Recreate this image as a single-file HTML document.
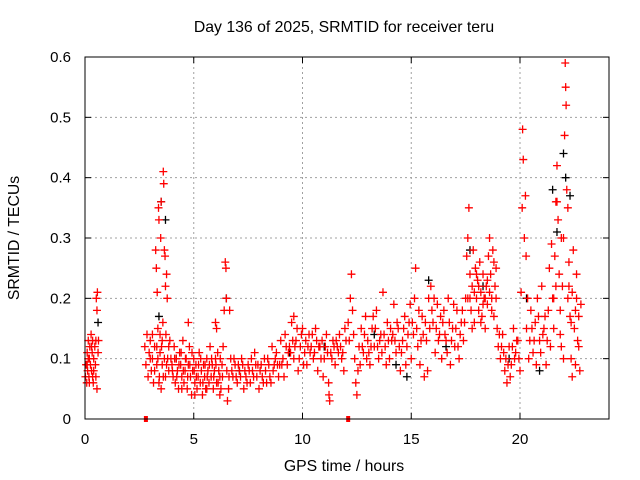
<!DOCTYPE html>
<html><head><meta charset="utf-8"><style>
html,body{margin:0;padding:0;background:#fff;}
svg{display:block;font-family:"Liberation Sans",sans-serif;}
</style></head><body>
<svg id="chart" width="640" height="480">
<text x="344" y="32" font-size="15.8" text-anchor="middle">Day 136 of 2025, SRMTID for receiver teru</text>
<text x="344" y="471" font-size="15.8" text-anchor="middle">GPS time / hours</text>
<text transform="translate(19,238) rotate(-90)" font-size="15.8" text-anchor="middle">SRMTID / TECUs</text>
<g id="grid"></g><g id="ticks"></g><g id="marks"></g>
<rect x="85" y="57" width="524" height="362" fill="none" stroke="#000" stroke-width="1"/>
</svg>
<script>
const xTicks=[0,5,10,15,20];
const yTicks=[0,0.1,0.2,0.3,0.4,0.5,0.6];
const yTickLabels=["0","0.1","0.2","0.3","0.4","0.5","0.6"];
const redTimes=[0.02,0.05,0.08,0.1,0.12,0.15,0.18,0.2,0.22,0.25,0.28,0.3,0.33,0.35,0.38,0.4,0.45,0.48,0.5,0.52,0.55,0.57,0.6,0.62,0.55,
2.75,2.8,2.85,2.9,2.95,3.0,3.05,3.1,3.15,3.2,3.25,3.28,3.3,3.32,3.35,3.38,3.4,3.42,3.45,3.48,3.5,3.52,3.55,3.58,3.6,3.62,3.65,3.68,3.7,3.72,3.75,3.78,3.8,3.85,3.9,3.4,3.5,3.6,
4.0,4.05,4.1,4.15,4.2,4.25,4.3,4.35,4.4,4.45,4.5,4.55,4.6,4.65,4.7,4.75,4.8,4.85,4.9,4.95,5.0,5.05,5.1,5.15,5.2,5.25,5.3,5.35,5.4,5.45,5.5,5.55,5.6,5.65,5.7,5.75,5.8,5.85,5.9,5.95,6.0,6.05,6.1,6.15,6.2,6.25,6.3,6.35,4.75,6.0,6.05,
6.4,6.45,6.48,6.5,6.52,6.55,6.6,6.62,6.65,
6.7,6.8,6.9,7.0,7.1,7.2,7.3,7.4,7.5,7.6,7.7,7.8,7.9,8.0,8.1,8.2,8.3,8.4,8.5,8.6,8.7,8.8,8.9,9.0,7.05,7.35,7.65,7.95,8.25,8.55,8.85,
9.1,9.2,9.3,9.4,9.5,9.6,9.7,9.8,9.9,10.0,10.1,10.2,10.3,10.4,10.5,10.6,10.7,10.8,10.9,11.0,11.1,11.2,11.22,11.25,11.3,11.4,11.5,11.6,11.7,11.8,11.9,12.0,9.15,9.45,9.75,10.05,10.35,10.65,10.95,11.35,11.65,11.95,9.6,
12.1,12.2,12.25,12.3,12.4,12.45,12.5,12.55,12.6,12.7,12.8,12.9,13.0,13.1,13.2,13.3,13.4,13.5,13.6,13.7,13.8,13.9,14.0,14.1,14.2,14.3,14.4,14.5,14.6,14.7,14.8,14.9,15.0,12.65,12.95,13.25,13.55,13.85,14.15,14.45,14.75,14.95,
15.1,15.15,15.2,15.3,15.4,15.5,15.6,15.7,15.8,15.9,16.0,16.1,16.2,16.3,16.4,16.5,16.6,16.7,16.8,16.9,17.0,17.1,17.2,17.3,17.4,17.5,15.45,15.75,16.05,16.35,16.65,16.95,17.25,
17.55,17.6,17.65,17.7,17.75,17.8,17.85,17.9,17.95,18.0,18.05,18.1,18.15,18.2,18.25,18.3,18.35,18.4,18.45,18.5,18.55,18.6,18.65,18.7,18.75,18.8,18.85,18.9,18.95,19.0,17.6,17.8,18.0,18.2,18.4,18.6,18.8,
19.1,19.2,19.3,19.4,19.5,19.6,19.7,19.8,19.9,20.0,19.25,19.55,19.75,
20.05,20.1,20.12,20.15,20.2,20.25,20.28,20.3,20.35,20.4,20.45,20.5,
20.6,20.7,20.8,20.9,21.0,21.1,21.2,21.3,21.4,21.5,20.75,21.05,21.35,21.45,
21.55,21.6,21.65,21.7,21.75,21.8,21.85,21.9,21.95,22.0,22.05,22.08,22.1,22.12,22.15,22.2,22.25,22.3,22.35,22.4,22.45,22.5,22.55,22.6,22.65,22.7,22.75,22.8,21.7,21.9,22.0,22.2,22.4,22.6];
const redValues=[0.07,0.09,0.06,0.11,0.08,0.13,0.07,0.1,0.12,0.09,0.14,0.08,0.11,0.13,0.06,0.1,0.12,0.09,0.07,0.2,0.18,0.21,0.11,0.13,0.05,
0.12,0.09,0.14,0.07,0.11,0.13,0.08,0.1,0.06,0.12,0.28,0.25,0.09,0.21,0.15,0.35,0.33,0.07,0.11,0.3,0.36,0.12,0.09,0.16,0.41,0.39,0.28,0.27,0.22,0.14,0.24,0.2,0.1,0.08,0.13,0.06,0.05,0.07,
0.09,0.07,0.12,0.06,0.1,0.08,0.05,0.11,0.09,0.07,0.13,0.06,0.08,0.1,0.05,0.09,0.12,0.07,0.04,0.08,0.1,0.06,0.09,0.05,0.07,0.11,0.06,0.08,0.04,0.09,0.07,0.05,0.1,0.08,0.06,0.12,0.07,0.09,0.05,0.08,0.1,0.06,0.11,0.08,0.07,0.05,0.09,0.12,0.16,0.16,0.15,
0.18,0.26,0.25,0.2,0.08,0.03,0.05,0.07,0.18,
0.1,0.07,0.09,0.06,0.08,0.1,0.05,0.07,0.09,0.06,0.08,0.11,0.07,0.05,0.09,0.06,0.08,0.1,0.07,0.12,0.09,0.11,0.07,0.13,0.09,0.08,0.1,0.09,0.1,0.06,0.09,
0.1,0.14,0.09,0.12,0.16,0.1,0.13,0.08,0.12,0.15,0.11,0.09,0.14,0.12,0.1,0.15,0.08,0.12,0.13,0.1,0.14,0.06,0.04,0.03,0.11,0.13,0.09,0.12,0.14,0.1,0.08,0.13,0.07,0.11,0.15,0.09,0.11,0.13,0.07,0.1,0.11,0.15,0.17,
0.16,0.2,0.24,0.18,0.1,0.06,0.04,0.08,0.12,0.15,0.11,0.17,0.13,0.09,0.15,0.12,0.18,0.1,0.14,0.21,0.12,0.16,0.1,0.13,0.19,0.11,0.15,0.08,0.13,0.17,0.12,0.16,0.1,0.09,0.1,0.17,0.13,0.09,0.14,0.12,0.09,0.19,
0.14,0.2,0.25,0.12,0.09,0.17,0.07,0.13,0.2,0.22,0.16,0.11,0.19,0.14,0.1,0.18,0.13,0.2,0.09,0.15,0.12,0.18,0.1,0.16,0.13,0.2,0.13,0.08,0.2,0.17,0.11,0.19,0.14,
0.27,0.3,0.35,0.24,0.18,0.22,0.28,0.16,0.25,0.2,0.23,0.18,0.26,0.21,0.17,0.24,0.2,0.15,0.22,0.19,0.27,0.3,0.24,0.2,0.28,0.17,0.22,0.25,0.15,0.12,0.2,0.15,0.24,0.16,0.2,0.21,0.26,
0.1,0.14,0.08,0.06,0.12,0.09,0.15,0.11,0.13,0.08,0.11,0.07,0.1,
0.21,0.35,0.48,0.43,0.3,0.37,0.27,0.15,0.2,0.1,0.13,0.18,
0.11,0.16,0.2,0.13,0.22,0.15,0.09,0.18,0.12,0.2,0.09,0.14,0.25,0.29,
0.15,0.27,0.36,0.42,0.33,0.24,0.18,0.12,0.22,0.3,0.47,0.59,0.55,0.52,0.38,0.35,0.26,0.17,0.1,0.21,0.28,0.15,0.09,0.2,0.13,0.17,0.08,0.19,0.36,0.3,0.1,0.2,0.07,0.24];
const redTimes2=[0.1,0.2,0.3,0.4,0.5,0.15,0.35,
3.0,3.1,3.2,3.3,3.35,3.45,3.55,3.65,3.75,3.85,3.95,3.7,
4.02,4.12,4.22,4.32,4.42,4.52,4.62,4.72,4.82,4.92,5.02,5.12,5.22,5.32,5.42,5.52,5.62,5.72,5.82,5.92,6.02,6.12,6.22,6.32,4.45,5.05,5.6,6.2,
6.75,6.85,6.95,7.15,7.25,7.45,7.55,7.75,7.85,8.05,8.15,8.35,8.45,8.65,8.75,8.95,
9.05,9.25,9.35,9.55,9.65,9.85,9.95,10.15,10.25,10.45,10.55,10.75,10.85,11.05,11.15,11.45,11.55,11.75,11.85,
12.15,12.35,12.75,12.85,13.05,13.15,13.35,13.45,13.65,13.75,13.95,14.05,14.25,14.35,14.55,14.65,14.85,
15.05,15.25,15.35,15.55,15.65,15.85,15.95,16.15,16.25,16.45,16.55,16.75,16.85,17.05,17.15,17.35,17.45,
17.7,17.9,18.1,18.3,18.5,18.7,18.9,19.05,19.15,19.35,19.45,19.65,19.85,19.95,
20.55,20.65,20.85,20.95,21.15,21.25,21.55,21.65,21.85,22.25,22.35,22.55,22.7];
const redValues2=[0.09,0.06,0.12,0.08,0.13,0.1,0.07,
0.1,0.14,0.08,0.12,0.1,0.14,0.13,0.1,0.09,0.12,0.1,0.07,
0.08,0.1,0.07,0.09,0.11,0.08,0.1,0.07,0.09,0.11,0.08,0.07,0.09,0.1,0.06,0.09,0.07,0.09,0.1,0.07,0.09,0.06,0.1,0.07,0.05,0.04,0.05,0.04,
0.08,0.1,0.07,0.07,0.09,0.06,0.08,0.07,0.09,0.08,0.07,0.06,0.09,0.08,0.1,0.09,
0.09,0.12,0.11,0.13,0.12,0.1,0.14,0.13,0.12,0.14,0.11,0.12,0.1,0.12,0.11,0.12,0.13,0.12,0.11,
0.13,0.14,0.12,0.14,0.11,0.12,0.15,0.12,0.11,0.14,0.13,0.15,0.13,0.16,0.11,0.15,0.14,
0.16,0.15,0.18,0.14,0.16,0.15,0.18,0.15,0.13,0.16,0.14,0.16,0.13,0.15,0.12,0.18,0.16,
0.2,0.21,0.22,0.19,0.23,0.18,0.2,0.14,0.12,0.1,0.09,0.12,0.13,0.1,
0.15,0.13,0.17,0.11,0.17,0.13,0.2,0.22,0.14,0.22,0.16,0.18,0.12];
const blackTimes=[0.6,3.4,3.5,3.7,4.2,6.5,7.1,9.4,11.0,13.3,14.3,15.8,16.6,17.7,18.3,19.5,20.3,21.7,22.0,22.1,22.3,21.5,20.9,14.8];
const blackValues=[0.16,0.17,0.36,0.33,0.1,0.2,0.08,0.11,0.12,0.14,0.09,0.23,0.12,0.28,0.22,0.1,0.2,0.31,0.44,0.4,0.37,0.38,0.08,0.07];
const zeroFlagTimes=[2.8,12.1];

const X0=85,X1=609,Y0=419,Y1=57;
const xs=t=>X0+t*21.75;
const ys=v=>Y0-(v/0.6)*(Y0-Y1);
const NS="http://www.w3.org/2000/svg";
function mk(tag,attrs,parent){const e=document.createElementNS(NS,tag);for(const k in attrs)e.setAttribute(k,attrs[k]);parent.appendChild(e);return e;}
const grid=document.getElementById('grid'),ticks=document.getElementById('ticks'),marks=document.getElementById('marks');
xTicks.forEach(t=>{const x=xs(t);
 if(t>0){const g=mk('line',{x1:x,x2:x,y1:Y1,y2:Y0,stroke:'#a0a0a0','stroke-dasharray':'2,3'},grid);
 
 }
 mk('line',{x1:x,x2:x,y1:Y0,y2:Y0-6,stroke:'#000'},ticks);
 mk('line',{x1:x,x2:x,y1:Y1,y2:Y1+6,stroke:'#000'},ticks);
 const l=mk('text',{x:x,y:444,'font-size':15,'text-anchor':'middle'},ticks);l.textContent=t;
 
 
});
yTicks.forEach((v,i)=>{const y=ys(v);
 if(i>0&&i<yTicks.length-1){const g=mk('line',{x1:X0,x2:X1,y1:y,y2:y,stroke:'#a0a0a0','stroke-dasharray':'2,3'},grid);
 
 }
 mk('line',{x1:X0,x2:X0+6,y1:y,y2:y,stroke:'#000'},ticks);
 mk('line',{x1:X1,x2:X1-6,y1:y,y2:y,stroke:'#000'},ticks);
 const l=mk('text',{x:71,y:y+5,'font-size':15,'text-anchor':'end'},ticks);l.textContent=yTickLabels[i];
 
 
});
function plus(t,v,c,name){const x=xs(t),y=ys(v);
 const p=mk('path',{d:`M${x-4},${y}H${x+4}M${x},${y-4}V${y+4}`,stroke:c,'stroke-width':1.3,fill:'none'},marks);
 
 }
blackTimes.forEach((t,i)=>plus(t,blackValues[i],'#000','black-point'));
redTimes.forEach((t,i)=>plus(t,redValues[i],'#f00','red-point'));
redTimes2.forEach((t,i)=>plus(t,redValues2[i],'#f00','red-point'));
zeroFlagTimes.forEach(t=>{const r=mk('rect',{x:xs(t)-2,y:Y0-3,width:4,height:6,fill:'#f00'},marks);
 
 });
</script>
</body></html>
